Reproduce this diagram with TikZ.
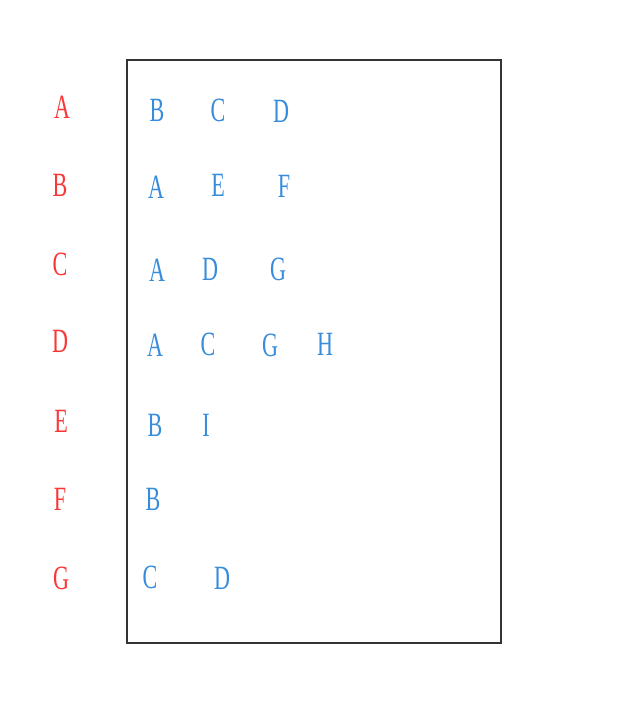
\documentclass[tikz,border=0pt]{standalone}
\usepackage{fontspec}
\setmainfont{Liberation Serif}
\definecolor{keyred}{RGB}{250,55,55}
\definecolor{adjblue}{RGB}{55,140,220}
\begin{document}
\begin{tikzpicture}[x=1pt,y=-1pt,
    key/.style={text=keyred,font=\fontsize{34}{34}\selectfont,xscale=0.65,transform shape,inner sep=0pt},
    adj/.style={text=adjblue,font=\fontsize{34}{34}\selectfont,xscale=0.65,transform shape,inner sep=0pt}]
      \useasboundingbox (0,0) rectangle (641,717);
      \draw[line width=1.8pt,black!80] (127,60) rectangle (501,643);
      \node[key] (kA) at (62,107){A};
      \node[key] (kB) at (60,185){B};
      \node[key] (kC) at (60,264){C};
      \node[key] (kD) at (60,341){D};
      \node[key] (kE) at (61,421){E};
      \node[key] (kF) at (60,499){F};
      \node[key] (kG) at (61,578){G};
      \node[adj] (aB) at (157,110){B};
      \node[adj] (aC) at (218,110){C};
      \node[adj] (aD) at (281,111){D};
      \node[adj] (bA) at (156,187){A};
      \node[adj] (bE) at (218,185){E};
      \node[adj] (bF) at (284,186){F};
      \node[adj] (cA) at (157,270){A};
      \node[adj] (cD) at (210,269){D};
      \node[adj] (cG) at (278,269){G};
      \node[adj] (dA) at (155,345){A};
      \node[adj] (dC) at (208,344){C};
      \node[adj] (dG) at (270,345){G};
      \node[adj] (dH) at (325,344){H};
      \node[adj] (eB) at (155,425){B};
      \node[adj] (eI) at (206,425){I};
      \node[adj] (fB) at (153,499){B};
      \node[adj] (gC) at (150,577){C};
      \node[adj] (gD) at (222,578){D};
    \end{tikzpicture}
\end{document}
